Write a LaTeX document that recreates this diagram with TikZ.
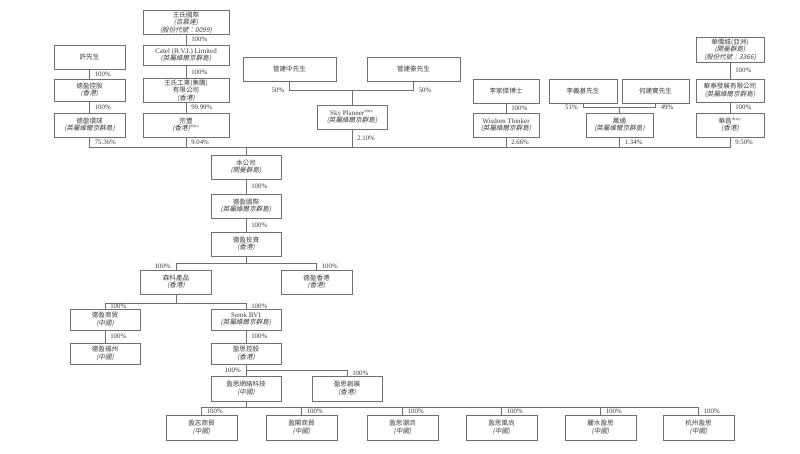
\documentclass[tikz,border=0pt]{standalone}
\usepackage{fontspec}
\setmainfont{Liberation Serif}
\newfontfamily\cjk[Scale=0.94]{Noto Sans CJK TC}
\newfontfamily\cjkit[Scale=0.94,FakeSlant=0.2]{Noto Sans CJK TC}
\usetikzlibrary{positioning}
\definecolor{boxgray}{HTML}{707070}
\definecolor{inkgray}{HTML}{3A3A3A}
\newcommand\zh[1]{{\cjk #1}}
\newcommand\zhi[1]{{\cjkit #1}}
\newcommand\fnref[1]{\textsuperscript{\cjk\fontsize{3}{3}\selectfont (附註#1)}}

\begin{document}
\begin{tikzpicture}[x=1pt,y=-1pt,on grid,
  ent/.style={draw=boxgray,line width=0.6pt,align=center,inner sep=1pt,
    minimum width=70pt,minimum height=24pt,text=inkgray,
    font=\fontsize{7}{7.4}\selectfont},
  pct/.style={font=\fontsize{6.8}{6.8}\selectfont,text=inkgray,inner ysep=1pt,inner xsep=5pt},
  link/.style={draw=boxgray,line width=0.6pt}]
  \useasboundingbox (0,0) rectangle (800,453);

  % shareholders
  \node[ent,minimum width=86pt,minimum height=23pt] (wangintl) at (186,22.5) {\zh{王氏國際}\\\zhi{(百慕達)}\\\zhi{(股份代號：0099)}};
  \node[ent,minimum width=86pt,minimum height=20pt] (catel) at (186,55) {Catel (B.V.I.) Limited\\\zhi{(英屬維爾京群島)}};
  \node[ent,minimum width=86pt,minimum height=23pt] (wangind) at (186,90.5) {\zh{王氏工業(集團)}\\\zh{有限公司}\\\zhi{(香港)}};
  \node[ent,minimum width=86pt] (zongfeng) at (186,125) {\zh{宗豐}\\\zhi{(香港)}\fnref{1}};

  \node[ent,minimum width=71pt] (xu) at (89.5,57) {\zh{許先生}};
  \node[ent,minimum width=71pt,minimum height=22pt] (dykg) at (89.5,90) {\zh{德盈控股}\\\zhi{(香港)}};
  \node[ent,minimum width=71pt] (dyhq) at (89.5,125) {\zh{德盈環球}\\\zhi{(英屬維爾京群島)}};

  \node[ent,minimum width=93pt] (guanzhong) at (289.5,69) {\zh{管建中先生}};
  \node[ent,minimum width=93pt] (guanhao) at (413.5,69) {\zh{管建豪先生}};
  \coordinate (gfork) at (352,90);
  \node[ent] (sky) at (352,117) {Sky Planner\fnref{2}\\\zhi{(英屬維爾京群島)}};

  \node[ent,minimum width=66pt] (lijiajie) at (506,91) {\zh{李家傑博士}};
  \node[ent,minimum width=66pt] (wisdom) at (506,125) {Wisdom Thinker\\\zhi{(英屬維爾京群島)}};
  \node[ent,minimum width=68pt] (liyiji) at (583,91) {\zh{李義基先生}};
  \node[ent,minimum width=67pt] (hejianshi) at (655.5,91) {\zh{何建實先生}};
  \coordinate (lfork) at (619.5,107);
  \node[ent,minimum width=67pt] (wantong) at (619.5,125) {\zh{萬通}\\\zhi{(英屬維爾京群島)}};

  \node[ent,minimum width=68pt,minimum height=25pt] (hqc) at (730,49.5) {\zh{華僑城(亞洲)}\\\zhi{(開曼群島)}\\\zhi{(股份代號：3366)}};
  \node[ent,minimum width=68pt,minimum height=23pt] (htfz) at (730,90.5) {\zh{華泰發展有限公司}\\\zhi{(英屬維爾京群島)}};
  \node[ent,minimum width=68pt] (huachang) at (730,125) {\zh{華昌}\fnref{3}\\\zhi{(香港)}};

  % group
  \coordinate (hub) at (246,147);
  \node[ent] (company) at (246,167) {\zh{本公司}\\\zhi{(開曼群島)}};
  \node[ent] (dyintl) [below=39pt of company] {\zh{德盈國際}\\\zhi{(英屬維爾京群島)}};
  \node[ent] (dyinv) [below=38pt of dyintl] {\zh{德盈投資}\\\zhi{(香港)}};
  \coordinate (fork1) at (246,263);
  \node[ent,minimum width=71pt] (senke) at (176,282) {\zh{森科產品}\\\zhi{(香港)}};
  \node[ent,minimum width=71pt] (dyhk) at (316.5,282) {\zh{德盈香港}\\\zhi{(香港)}};
  \coordinate (fork2) at (176,303);
  \node[ent,minimum height=21pt] (dysm) at (105,319.5) {\zh{德盈商貿}\\\zhi{(中國)}};
  \node[ent,minimum height=21pt] (semk) at (246,319.5) {Semk BVI\\\zhi{(英屬維爾京群島)}};
  \node[ent,minimum height=21pt] (dyfz) [below=34pt of dysm] {\zh{德盈福州}\\\zhi{(中國)}};
  \node[ent,minimum height=21pt] (yskg) [below=34pt of semk] {\zh{盈思控股}\\\zhi{(香港)}};
  \coordinate (fork3) at (246,370);
  \node[ent,minimum height=25pt] (ysnet) at (246,388.5) {\zh{盈思網絡科技}\\\zhi{(中國)}};
  \node[ent,minimum height=25pt] (yscz) at (347,388.5) {\zh{盈思創展}\\\zhi{(香港)}};
  \coordinate (fork4) at (246,407);
  \foreach \nm/\x/\txt in {yzsm/201.5/盈志商貿, ygsm/301.5/盈閣商貿, yscl/402.5/盈思潮流,
      ysfs/501.5/盈思風尚, lsys/600.5/麗水盈思, hzys/698.5/杭州盈思}
    \node[ent,minimum width=71pt,minimum height=25pt] (\nm) at (\x,427.5) {\zh{\txt}\\\zhi{(中國)}};

  % holdings above the company
  \draw[link] (wangintl) -- (catel) node[pct,midway,right] {100\%};
  \draw[link] (catel) -- (wangind) node[pct,midway,right] {100\%};
  \draw[link] (wangind) -- (zongfeng) node[pct,midway,right] {99.99\%};
  \draw[link] (xu) -- (dykg) node[pct,midway,right] {100\%};
  \draw[link] (dykg) -- (dyhq) node[pct,midway,right] {100\%};
  \draw[link] (guanzhong) |- (gfork) node[pct,pos=0.5,left] {50\%};
  \draw[link] (guanhao) |- (gfork) node[pct,pos=0.5,right] {50\%};
  \draw[link] (gfork) -- (sky);
  \draw[link] (lijiajie) -- (wisdom) node[pct,midway,right] {100\%};
  \draw[link] (liyiji) |- (lfork) node[pct,pos=0.5,left] {51\%};
  \draw[link] (hejianshi) |- (lfork) node[pct,pos=0.5,right] {49\%};
  \draw[link] (lfork) -- (wantong);
  \draw[link] (hqc) -- (htfz) node[pct,midway,right] {100\%};
  \draw[link] (htfz) -- (huachang) node[pct,midway,right] {100\%};

  \draw[link] (dyhq) |- (hub) node[pct,pos=0.25,right] {75.36\%};
  \draw[link] (zongfeng) |- (hub) node[pct,pos=0.25,right] {9.04\%};
  \draw[link] (sky) |- (hub) node[pct,pos=0.25,right] {2.10\%};
  \draw[link] (wisdom) |- (hub) node[pct,pos=0.25,right] {2.66\%};
  \draw[link] (wantong) |- (hub) node[pct,pos=0.25,right] {1.34\%};
  \draw[link] (huachang) |- (hub) node[pct,pos=0.25,right] {9.50\%};
  \draw[link] (hub) -- (company);

  % group structure
  \draw[link] (company) -- (dyintl) node[pct,midway,right] {100\%};
  \draw[link] (dyintl) -- (dyinv) node[pct,midway,right] {100\%};
  \draw[link] (dyinv) -- (fork1);
  \draw[link] (fork1) -| (senke) node[pct,pos=0.75,left] {100\%};
  \draw[link] (fork1) -| (dyhk) node[pct,pos=0.75,right] {100\%};
  \draw[link] (senke) -- (fork2);
  \draw[link] (fork2) -| (dysm) node[pct,pos=0.75,right] {100\%};
  \draw[link] (fork2) -| (semk) node[pct,pos=0.75,right] {100\%};
  \draw[link] (dysm) -- (dyfz) node[pct,midway,right] {100\%};
  \draw[link] (semk) -- (yskg) node[pct,midway,right] {100\%};
  \draw[link] (yskg) -- (ysnet) node[pct,midway,left] {100\%};
  \draw[link] (fork3) -| (yscz) node[pct,pos=0.75,right] {100\%};
  \draw[link] (ysnet) -- (fork4);
  \foreach \nm in {yzsm,ygsm,yscl,ysfs,lsys,hzys}
    \draw[link] (fork4) -| (\nm) node[pct,pos=0.75,right] {100\%};
\end{tikzpicture}
\end{document}
